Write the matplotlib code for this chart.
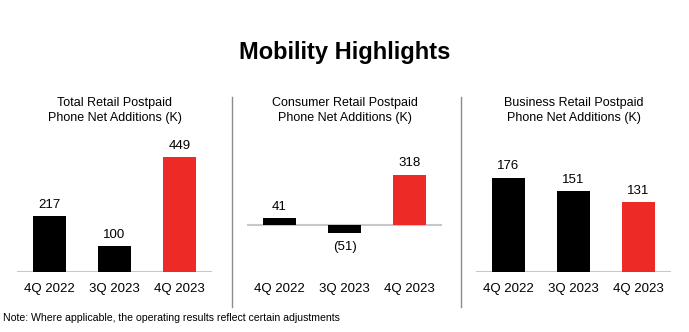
import matplotlib
matplotlib.use("Agg")
from matplotlib import pyplot as plt
from matplotlib.lines import Line2D

plt.rcParams['font.family'] = ['Liberation Sans', 'DejaVu Sans']

# data
quarters = ["4Q 2022", "3Q 2023", "4Q 2023"]
titles = ["Total Retail Postpaid\nPhone Net Additions (K)",
          "Consumer Retail Postpaid\nPhone Net Additions (K)",
          "Business Retail Postpaid\nPhone Net Additions (K)"]
total_adds = [217, 100, 449]
consumer_adds = [41, -51, 318]
business_adds = [176, 151, 131]
series = [total_adds, consumer_adds, business_adds]

BLACK = "#000000"
RED = "#ee2a26"
bar_colors = [BLACK, BLACK, RED]

W, H = 689, 332
fig = plt.figure(figsize=(W / 100, H / 100), dpi=100)


def px_box(left, top, right, bottom):
    """ Converts a pixel box (origin top-left) to figure fractions """
    return [left / W, 1 - bottom / H, (right - left) / W, (bottom - top) / H]


# axes extents in pixels and y-limits for each panel
panel_lefts = [17, 247, 476]
panel_ylims = [(0, 555), (-300, 604), (0, 266)]

for i, values in enumerate(series):
    left = panel_lefts[i]
    ax = fig.add_axes(px_box(left, 130, left + 195, 272))
    ax.bar(range(len(values)), values, width=0.5, color=bar_colors)
    ax.axhline(0, color="#c8c8c8", linewidth=1.5, zorder=0)
    ax.set_xlim(-0.5, 2.5)
    ax.set_ylim(*panel_ylims[i])
    for spine in ax.spines.values():
        spine.set_visible(False)
    ax.set_yticks([])
    ax.set_xticks(range(len(quarters)))
    ax.set_xticklabels(quarters, fontsize=9.5)
    ax.tick_params(axis="x", length=0, pad=8)

    for x, v in enumerate(values):
        label = str(v) if v >= 0 else f"({abs(v)})"
        if v >= 0:
            ax.annotate(label, (x, v), xytext=(0, 4), textcoords="offset points",
                        ha="center", va="bottom", fontsize=9.5)
        else:
            ax.annotate(label, (x, v), xytext=(0, -6), textcoords="offset points",
                        ha="center", va="top", fontsize=9.5)

    fig.text((left + 97.5) / W, 1 - 110.5 / H, titles[i], ha="center", va="center",
             fontsize=9, linespacing=1.35)

# separators between panels
for sx in [232, 461]:
    fig.add_artist(Line2D([sx / W, sx / W], [1 - 97 / H, 1 - 307 / H],
                          color="#8c8c8c", linewidth=1))

fig.text(0.5, 1 - 52 / H, "Mobility Highlights", ha="center", va="center",
         fontsize=17, fontweight="bold")
fig.text(3 / W, 1 - 318 / H, "Note: Where applicable, the operating results reflect certain adjustments",
         ha="left", va="center", fontsize=7.6)

fig.savefig("out.png", dpi=100)
